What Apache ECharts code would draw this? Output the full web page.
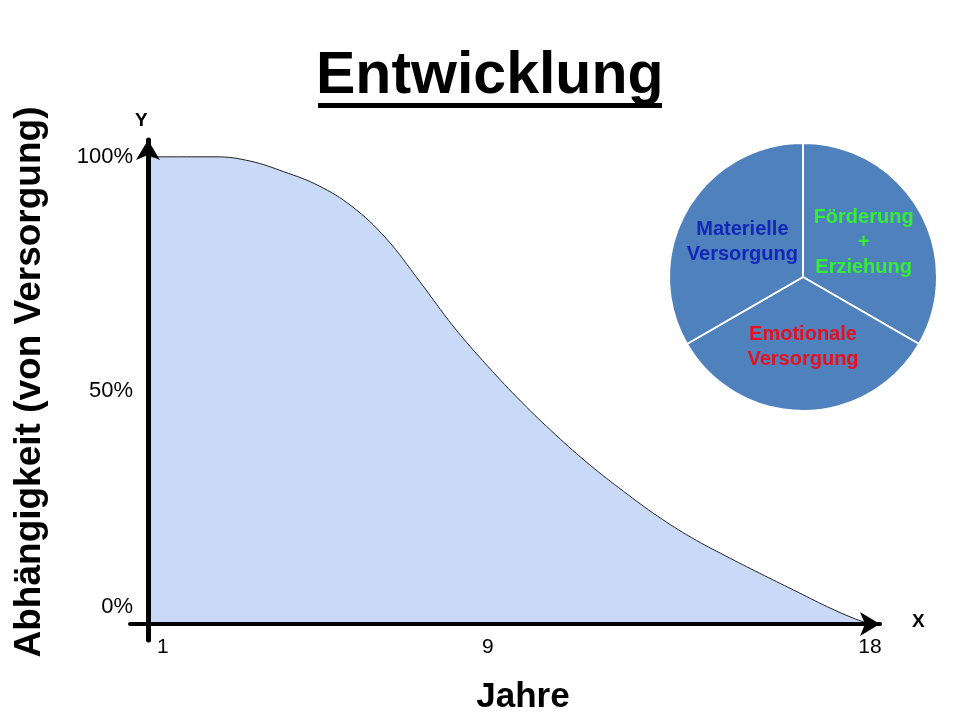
<!DOCTYPE html>
<html>
<head>
<meta charset="utf-8">
<script src="https://cdn.jsdelivr.net/npm/echarts@6/dist/echarts.min.js"></script>
<style>html,body{margin:0;padding:0;background:#fff;}#c{width:960px;height:720px;}</style>
</head>
<body>
<div id="c"></div>
<script>
// Curve: age in years vs. dependency in percent
var ageYears   = [1, 1.8, 2.6, 3.4, 4.2, 5.0, 5.8, 6.6, 7.4, 8.2, 9.0, 9.8, 10.6, 11.4, 12.2, 13.0, 13.8, 14.6, 15.4, 16.2, 17.0, 17.6, 18];
var dependency = [100, 100, 100, 99.1, 96.8, 93.9, 89.4, 82.6, 73.3, 63.6, 55.2, 47.5, 40.5, 34.1, 28.4, 23.1, 18.5, 14.6, 10.9, 7.3, 3.7, 1.3, 0];
var xTicks = [1, 9, 18];
var yTicks = [0, 50, 100];
// Pie slices (clockwise from the top)
var pieNames  = ['Förderung\n+\nErziehung', 'Emotionale\nVersorgung', 'Materielle\nVersorgung'];
var pieValues = [1, 1, 1];
var pieLabelColors = ['#33ee33', '#e8101e', '#1226b8'];

var FONT = 'Liberation Sans, Arial, sans-serif';
var chart = echarts.init(document.getElementById('c'));

var curve = ageYears.map(function (a, i) { return [a, dependency[i]]; });
var pieData = pieNames.map(function (n, i) {
  return { name: n, value: pieValues[i], label: { color: pieLabelColors[i] } };
});

chart.setOption({
  backgroundColor: '#fff',
  animation: false,
  title: {
    text: 'Entwicklung',
    left: 316, top: 47, padding: 0,
    textStyle: { fontFamily: FONT, fontSize: 59, fontWeight: 'bold', color: '#000' }
  },
  graphic: [
    { type: 'rect', shape: { x: 318, y: 103, width: 344, height: 5 }, style: { fill: '#000' } },
    { type: 'text', left: 135, top: 111, style: { text: 'Y', fontFamily: FONT, fontSize: 19, fontWeight: 'bold', fill: '#000' } },
    { type: 'text', left: 912, top: 612, style: { text: 'X', fontFamily: FONT, fontSize: 19, fontWeight: 'bold', fill: '#000' } }
  ],
  grid: { left: 130, right: 80, top: 140, bottom: 80, outerBoundsMode: 'none', containLabel: false },
  xAxis: {
    type: 'value',
    min: 0.576, max: 18.236,
    z: 5,
    name: 'Jahre',
    nameLocation: 'middle',
    nameGap: 40,
    nameTextStyle: { fontFamily: FONT, fontSize: 35, fontWeight: 'bold', color: '#000', padding: [0, 0, 0, 36] },
    axisLine: { show: true, onZero: true, symbol: ['none', 'arrow'], symbolSize: [18, 20], lineStyle: { color: '#000', width: 4 } },
    axisTick: { show: false },
    splitLine: { show: false },
    axisLabel: {
      customValues: xTicks,
      alignMinLabel: 'left',
      margin: -3,
      fontFamily: FONT, fontSize: 21, color: '#000',
      formatter: function (v) { return v === xTicks[0] ? '{a|' + v + '}' : String(v); },
      rich: { a: { fontFamily: FONT, fontSize: 21, color: '#000', padding: [0, 0, 0, 9] } }
    }
  },
  yAxis: {
    type: 'value',
    min: -3.4, max: 103.6,
    offset: -18,
    z: 5,
    name: 'Abhängigkeit (von Versorgung)',
    nameLocation: 'middle',
    nameRotate: 90,
    nameGap: 100,
    nameTextStyle: { fontFamily: FONT, fontSize: 37, fontWeight: 'bold', color: '#000', padding: [0, 0, 0, 16] },
    axisLine: { show: true, onZero: false, symbol: ['none', 'arrow'], symbolSize: [18, 20], lineStyle: { color: '#000', width: 5 } },
    axisTick: { show: false },
    splitLine: { show: false },
    axisLabel: {
      customValues: yTicks,
      margin: 15,
      fontFamily: FONT, fontSize: 22, color: '#000',
      formatter: function (v) { return v === 0 ? '{z|0%}' : v + '%'; },
      rich: { z: { fontFamily: FONT, fontSize: 22, color: '#000', padding: [0, 0, 34, 0] } }
    }
  },
  series: [
    {
      type: 'line',
      data: curve,
      smooth: 0.4,
      showSymbol: false,
      z: 2,
      lineStyle: { color: '#222', width: 1 },
      areaStyle: { color: '#c9d9f8', opacity: 1 }
    },
    {
      type: 'pie',
      center: [803, 277],
      radius: 134,
      startAngle: 90,
      clockwise: true,
      data: pieData,
      itemStyle: { color: '#4f81bd', borderColor: '#fff', borderWidth: 2 },
      label: {
        show: true, position: 'inside', formatter: '{b}',
        fontFamily: FONT, fontSize: 20, fontWeight: 'bold', lineHeight: 25
      },
      labelLine: { show: false },
      emphasis: { disabled: true }
    }
  ]
});
</script>
</body>
</html>
